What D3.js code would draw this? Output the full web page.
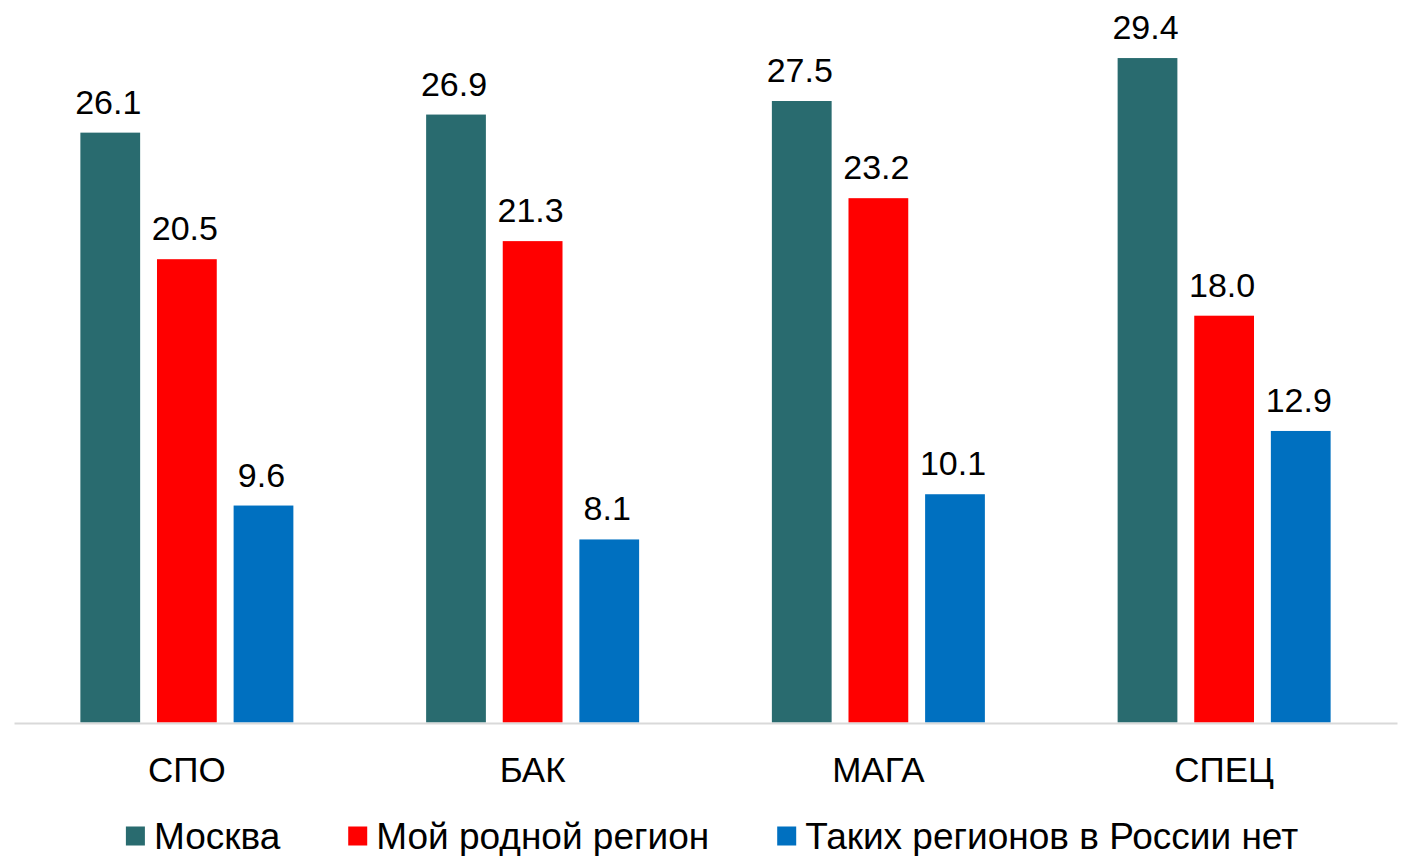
<html>
<head>
<meta charset="utf-8">
<script src="https://d3js.org/d3.v7.min.js"></script>
<style>
  body { margin: 0; background: #fff; }
  text { font-family: Arial, "Liberation Sans", sans-serif; fill: #000; }
</style>
</head>
<body>
<div id="chart"></div>
<script>
// data
var categories = ["СПО", "БАК", "МАГА", "СПЕЦ"];
var seriesNames = ["Москва", "Мой родной регион", "Таких регионов в России нет"];
var moscow = [26.1, 26.9, 27.5, 29.4];
var homeRegion = [20.5, 21.3, 23.2, 18.0];
var noSuchRegion = [9.6, 8.1, 10.1, 12.9];
var colors = ["#296b6f", "#ff0000", "#0070c0"];

var width = 1406, height = 856;
var baseY = 722.5;

var svg = d3.select("#chart").append("svg")
  .attr("width", width)
  .attr("height", height);

// scales
var x0 = d3.scaleBand().domain(categories).range([14, 1397]).padding(0);
var groupW = 213;
var x1 = d3.scaleBand().domain(seriesNames)
  .range([(x0.bandwidth() - groupW) / 2, (x0.bandwidth() + groupW) / 2])
  .paddingInner(0.22).paddingOuter(0);
var y = d3.scaleLinear().domain([0, 30]).range([baseY, baseY - 30 * 22.6]);

var allSeries = [moscow, homeRegion, noSuchRegion];
var rows = [];
categories.forEach(function(c, i) {
  seriesNames.forEach(function(s, j) {
    rows.push({cat: c, series: s, idx: j, value: allSeries[j][i]});
  });
});

// bars
svg.selectAll("rect.bar")
  .data(rows)
  .enter().append("rect")
  .attr("class", "bar")
  .attr("x", function(d) { return x0(d.cat) + x1(d.series); })
  .attr("y", function(d) { return y(d.value); })
  .attr("width", x1.bandwidth())
  .attr("height", function(d) { return y(0) - y(d.value); })
  .attr("fill", function(d) { return colors[d.idx]; });

// value labels
svg.selectAll("text.val")
  .data(rows)
  .enter().append("text")
  .attr("class", "val")
  .attr("x", function(d) { return x0(d.cat) + x1(d.series) + x1.bandwidth() / 2 - 2; })
  .attr("y", function(d) { return y(d.value) - 19; })
  .attr("text-anchor", "middle")
  .style("font-size", "34px")
  .text(function(d) { return d.value.toFixed(1); });

// x axis
var xAxis = svg.append("g")
  .attr("transform", "translate(0," + (baseY + 0.5) + ")")
  .call(d3.axisBottom(x0).tickSize(0).tickPadding(34));
xAxis.select(".domain").attr("stroke", "#d9d9d9").attr("stroke-width", 2);
xAxis.selectAll("text")
  .style("font-size", "35px")
  .style("font-family", "Arial, 'Liberation Sans', sans-serif")
  .attr("fill", "#000");

// legend
var legend = svg.append("g").attr("class", "legend");
var sq = 19, gapText = 9, gapItem = 68, cursor = 0;
seriesNames.forEach(function(s, i) {
  var g = legend.append("g");
  g.append("rect").attr("width", sq).attr("height", sq)
    .attr("y", -sq / 2).attr("fill", colors[i]);
  var t = g.append("text").attr("x", sq + gapText).attr("dy", "0.35em")
    .style("font-size", "37px").text(s);
  var w = sq + gapText + t.node().getComputedTextLength();
  g.attr("transform", "translate(" + cursor + ",0)");
  cursor += w + gapItem;
});
var legendW = cursor - gapItem;
legend.attr("transform", "translate(" + (712 - legendW / 2) + ",836)");
</script>
</body>
</html>
